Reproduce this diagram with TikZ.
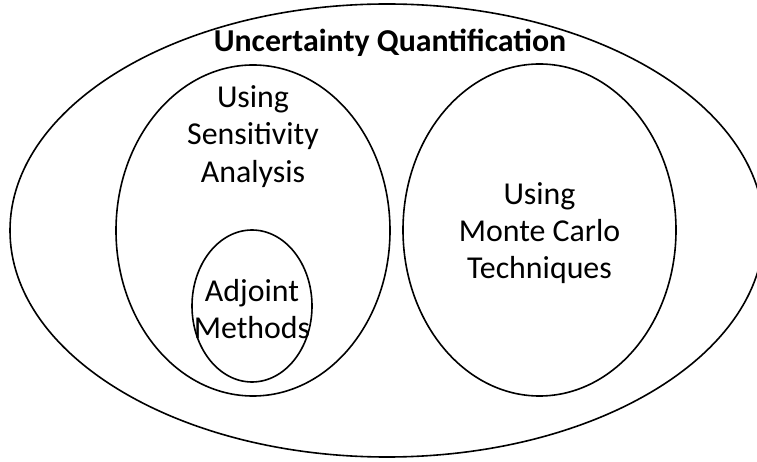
\documentclass[tikz,border=0pt]{standalone}
\usepackage{fontspec}
\setmainfont{Carlito}
\usetikzlibrary{shapes.geometric,positioning}

\tikzset{
  set/.style={draw,ellipse,line width=1.6bp,inner sep=0pt},
  settext/.style={align=center,inner sep=0pt,font=\fontsize{32}{37.5}\selectfont},
}

\begin{document}
\begin{tikzpicture}[x=1bp,y=-1bp]
  \useasboundingbox (0,0) rectangle (757,462);
  \clip (0,0) rectangle (757,462);

  % the sets
  \node[set,minimum width=754bp,minimum height=453bp](uq) at (387,230.5){};
  \node[set,minimum width=274bp,minimum height=331bp](sens) at (253,230.5){};
  \node[set,minimum width=273bp,minimum height=332bp](mc) at (539.5,230){};
  \node[set,minimum width=120bp,minimum height=152bp](adj) at (252,306){};

  % their names
  \node[settext,font=\fontsize{32}{37.5}\selectfont\bfseries,below=26bp of uq.north,xshift=3bp](uqtext){Uncertainty Quantification};
  \node[settext,below=21bp of sens.north](senstext){Using\\Sensitivity\\Analysis};
  \node[settext](mctext) at ([yshift=-3bp]mc){Using\\Monte Carlo\\Techniques};
  \node[settext](adjtext) at ([yshift=-3bp]adj){Adjoint\\Methods};

\end{tikzpicture}
\end{document}
